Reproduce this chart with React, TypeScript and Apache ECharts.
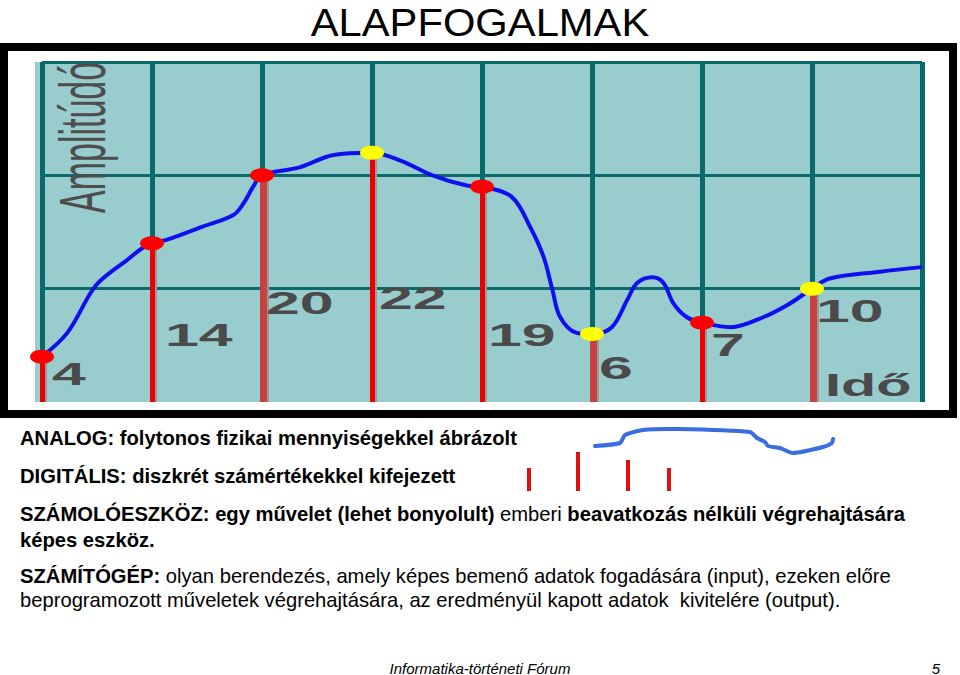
import React, { useEffect, useRef } from "react";
import * as echarts from "echarts";

// ---- data ----
const sampleTimes = [0, 1, 2, 3, 4, 5, 6, 7];
const sampleValues = [4, 14, 20, 22, 19, 6, 7, 10];
const markerKinds = ["red", "red", "red", "yellow", "red", "yellow", "red", "yellow"];

const analogTimes = [
  0, 0.23, 0.44, 0.53, 0.77, 0.95, 1.13, 1.44, 1.74, 1.83, 1.92, 2.0, 2.34, 2.65, 3.0,
  3.26, 3.55, 3.86, 4.0, 4.27, 4.44, 4.56, 4.64, 4.71, 4.86, 5.0, 5.18, 5.32, 5.41,
  5.55, 5.65, 5.74, 5.86, 6.0, 6.26, 6.56, 6.8, 7.0, 7.16, 7.62, 8.0,
];
const analogValues = [
  4, 6.1, 9.6, 10.7, 12.5, 13.8, 14.3, 15.4, 16.5, 17.5, 19.0, 20, 20.7, 21.8, 22,
  21.3, 20.0, 19.1, 19, 18.1, 15.4, 12.8, 9.9, 7.5, 6.1, 6, 6.6, 9.0, 10.5,
  11.0, 10.5, 8.7, 7.5, 7, 6.6, 7.5, 8.7, 10, 10.9, 11.5, 11.9,
];

const yTicks = [0, 10, 20, 30];
const xAxisName = "Idő";
const yAxisName = "Amplitúdó";

// ---- styles / layout (not data) ----
const markerColor: Record<string, string> = { red: "#ff0000", yellow: "#ffff00" };
const stemStyles = [
  { fill: "#ee0000", w: 5 },
  { fill: "#ee0000", w: 5 },
  { fill: "#c84040", w: 7 },
  { fill: "#ee0000", w: 5 },
  { fill: "#ee0000", w: 5 },
  { fill: "#c84040", w: 7 },
  { fill: "#ee0000", w: 5 },
  { fill: "#c84040", w: 7 },
];
// label offsets relative to the base of each stem (px)
const labelOffsets = [
  [10, -28],
  [13, -67],
  [4, -99],
  [7, -104],
  [6, -67],
  [7, -34],
  [9, -57],
  [4, -91],
];
const STRETCH = 1.9;
const GRID = "#0a6a6a";
const FONT = "'Liberation Sans', Arial, sans-serif";
const BODY = 20.2;

export default function App() {
  const ref = useRef<HTMLDivElement>(null);

  useEffect(() => {
    if (!ref.current) return;
    const chart = echarts.init(ref.current, undefined, { renderer: "svg" });

    const samples = sampleTimes.map((t, i) => [t, sampleValues[i]]);
    const analog = analogTimes.map((t, i) => [t, analogValues[i]]);

    const rich = {
      b: { fontSize: BODY, fontFamily: FONT, fontWeight: "bold", fill: "#000" },
      r: { fontSize: BODY, fontFamily: FONT, fontWeight: "normal", fill: "#000" },
    };

    const option: any = {
      animation: false,
      backgroundColor: "#ffffff",
      grid: {
        left: 42,
        right: 38,
        top: 62,
        bottom: 273,
        show: true,
        backgroundColor: "#99cccc",
        borderWidth: 0,
      },
      xAxis: {
        type: "value",
        min: 0,
        max: 8,
        interval: 1,
        axisLine: { show: false },
        axisTick: { show: false },
        axisLabel: { show: false },
        splitLine: { show: true, lineStyle: { color: GRID, width: 5 } },
      },
      yAxis: {
        type: "value",
        min: yTicks[0],
        max: yTicks[yTicks.length - 1],
        interval: 10,
        axisLine: { show: false },
        axisTick: { show: false },
        axisLabel: { show: false },
        splitLine: {
          show: true,
          lineStyle: { color: ["rgba(0,0,0,0)", GRID, GRID, GRID], width: 3 },
        },
      },
      series: [
        {
          type: "custom",
          name: "stems",
          z: 3,
          clip: false,
          data: samples,
          renderItem: (params: any, api: any) => {
            const x = api.value(0);
            const v = api.value(1);
            const top = api.coord([x, v]);
            const base = api.coord([x, 0]);
            const s = stemStyles[params.dataIndex];
            return {
              type: "group",
              children: [
                {
                  type: "rect",
                  shape: { x: base[0] - 2, y: top[1], width: s.w, height: base[1] - top[1] },
                  style: { fill: s.fill },
                },
                {
                  type: "rect",
                  shape: { x: base[0] - 2 + s.w, y: top[1] + 6, width: 2, height: base[1] - top[1] - 6 },
                  style: { fill: "#9a9a9a" },
                },
              ],
            };
          },
        },
        {
          type: "line",
          name: "analog",
          z: 4,
          data: analog,
          smooth: 0.35,
          showSymbol: false,
          lineStyle: { color: "#1010ee", width: 4 },
        },
        {
          type: "scatter",
          name: "samples",
          z: 5,
          clip: false,
          data: samples,
          symbol: "circle",
          symbolSize: [24, 14],
          itemStyle: {
            color: (p: any) => markerColor[markerKinds[p.dataIndex]],
            opacity: 1,
          },
        },
        {
          type: "custom",
          name: "labels",
          z: 6,
          clip: false,
          data: samples,
          renderItem: (params: any, api: any) => {
            const x = api.value(0);
            const base = api.coord([x, 0]);
            const off = labelOffsets[params.dataIndex];
            return {
              type: "text",
              x: base[0] + off[0],
              y: base[1] + off[1],
              scaleX: STRETCH,
              style: {
                text: String(sampleValues[params.dataIndex]),
                fontSize: 32,
                fontWeight: "bold",
                fontFamily: FONT,
                fill: "#4a4a4a",
                textAlign: "left",
                verticalAlign: "middle",
              },
            };
          },
        },
      ],
      graphic: [
        {
          type: "rect",
          z: 0,
          shape: { x: 35, y: 62, width: 6, height: 340 },
          style: { fill: "#99cccc" },
        },
        {
          type: "rect",
          shape: { x: 4, y: 47, width: 949, height: 367 },
          style: { fill: "none", stroke: "#000000", lineWidth: 8 },
        },
        {
          type: "text",
          x: 82,
          y: 213,
          rotation: Math.PI / 2,
          scaleY: STRETCH,
          z: 10,
          style: {
            text: yAxisName,
            fontSize: 34,
            fontFamily: FONT,
            fill: "#4d4d4d",
            textAlign: "left",
            verticalAlign: "middle",
          },
        },
        {
          type: "text",
          x: 825,
          y: 385,
          scaleX: 1.8,
          z: 10,
          style: {
            text: xAxisName,
            fontSize: 32,
            fontWeight: "bold",
            fontFamily: FONT,
            fill: "#4a4a4a",
            textAlign: "left",
            verticalAlign: "middle",
          },
        },
        {
          type: "text",
          x: 480,
          y: 22,
          scaleX: 1.07,
          style: {
            text: "ALAPFOGALMAK",
            fontSize: 39,
            lineHeight: 40,
            fontFamily: FONT,
            fill: "#000000",
            textAlign: "center",
            verticalAlign: "middle",
          },
        },
        {
          type: "text",
          x: 20,
          y: 438,
          style: {
            text: "ANALOG: folytonos fizikai mennyiségekkel ábrázolt",
            fontSize: BODY,
            fontWeight: "bold",
            fontFamily: FONT,
            fill: "#000",
            verticalAlign: "middle",
          },
        },
        {
          type: "text",
          x: 20,
          y: 476,
          style: {
            text: "DIGITÁLIS: diszkrét számértékekkel kifejezett",
            fontSize: BODY,
            fontWeight: "bold",
            fontFamily: FONT,
            fill: "#000",
            verticalAlign: "middle",
          },
        },
        {
          type: "text",
          x: 20,
          y: 514,
          style: {
            text: "{b|SZÁMOLÓESZKÖZ: egy művelet (lehet bonyolult)} {r|emberi} {b|beavatkozás nélküli végrehajtására}",
            fontSize: BODY,
            fontFamily: FONT,
            fill: "#000",
            verticalAlign: "middle",
            rich,
          },
        },
        {
          type: "text",
          x: 20,
          y: 540,
          style: {
            text: "képes eszköz.",
            fontSize: BODY,
            fontWeight: "bold",
            fontFamily: FONT,
            fill: "#000",
            verticalAlign: "middle",
          },
        },
        {
          type: "text",
          x: 20,
          y: 576,
          style: {
            text: "{b|SZÁMÍTÓGÉP:} {r|olyan berendezés, amely képes bemenő adatok fogadására (input), ezeken előre}",
            fontSize: BODY,
            fontFamily: FONT,
            fill: "#000",
            verticalAlign: "middle",
            rich,
          },
        },
        {
          type: "text",
          x: 20,
          y: 600,
          style: {
            text: "beprogramozott műveletek végrehajtására, az eredményül kapott adatok  kivitelére (output).",
            fontSize: BODY,
            fontFamily: FONT,
            fill: "#000",
            verticalAlign: "middle",
          },
        },
        {
          type: "polyline",
          shape: {
            points: [
              [595, 446], [620, 443], [625, 435], [643, 430], [677, 429], [750, 432],
              [757, 438], [765, 442], [768, 446], [780, 448], [793, 453], [823, 447],
              [832, 443], [833, 439],
            ],
            smooth: 0.2,
          },
          style: { stroke: "#3a6ee0", lineWidth: 4, fill: "none", lineCap: "round" },
        },
        { type: "rect", shape: { x: 527, y: 468, width: 4, height: 23 }, style: { fill: "#e01010" } },
        { type: "rect", shape: { x: 576, y: 452, width: 4, height: 39 }, style: { fill: "#e01010" } },
        { type: "rect", shape: { x: 626, y: 460, width: 4, height: 31 }, style: { fill: "#e01010" } },
        { type: "rect", shape: { x: 667, y: 468, width: 4, height: 23 }, style: { fill: "#e01010" } },
        {
          type: "text",
          x: 480,
          y: 668,
          style: {
            text: "Informatika-történeti Fórum",
            fontSize: 15,
            fontStyle: "italic",
            fontFamily: FONT,
            fill: "#000",
            textAlign: "center",
            verticalAlign: "middle",
          },
        },
        {
          type: "text",
          x: 936,
          y: 668,
          style: {
            text: "5",
            fontSize: 15,
            fontStyle: "italic",
            fontFamily: FONT,
            fill: "#000",
            textAlign: "center",
            verticalAlign: "middle",
          },
        },
      ],
    };

    chart.setOption(option);
    return () => chart.dispose();
  }, []);

  return (
    <div
      ref={ref}
      style={{ position: "fixed", left: 0, top: 0, width: 960, height: 675, background: "#fff" }}
    />
  );
}
